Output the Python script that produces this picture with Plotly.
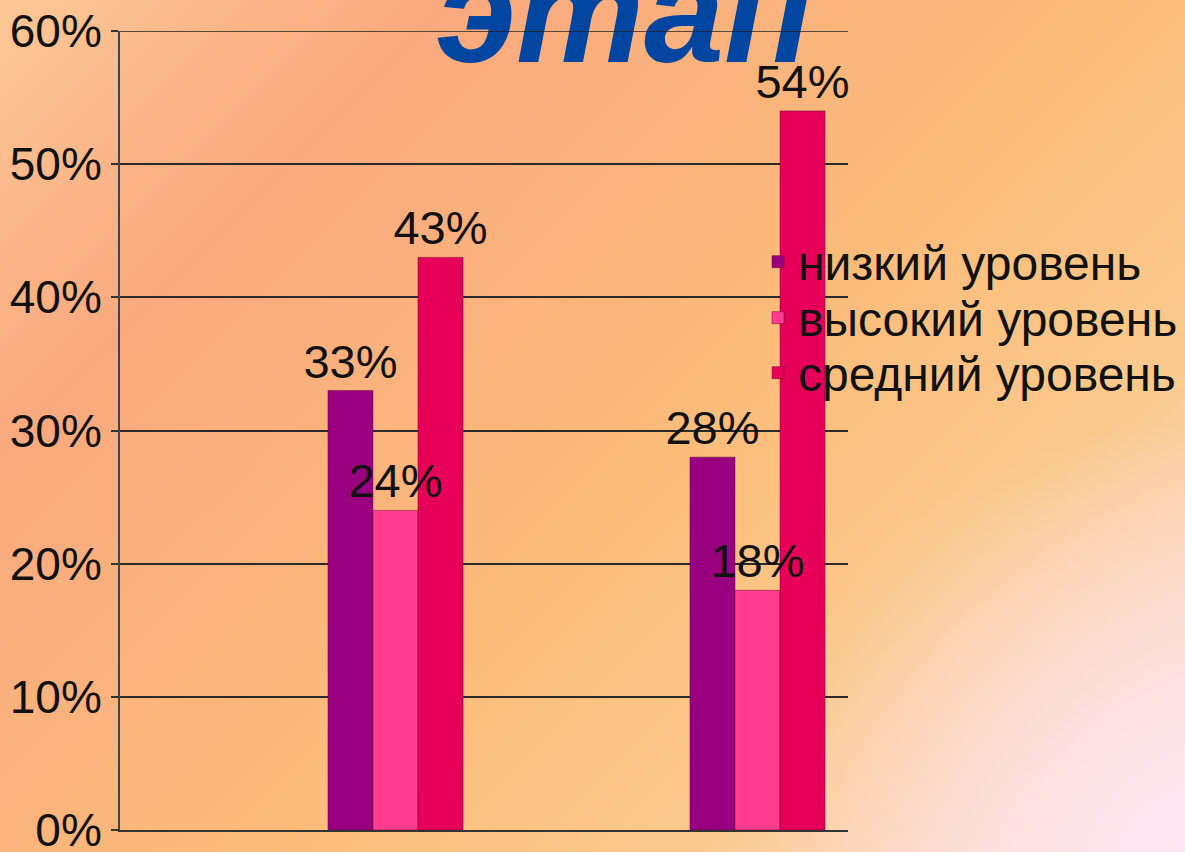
import base64
import plotly.graph_objects as go

# ---- data ----
groups = [0, 1]
series_names = ["низкий уровень", "высокий уровень", "средний уровень"]
low_values = [33, 28]
high_values = [24, 18]
mid_values = [43, 54]
series_colors = ["#990080", "#FF3C8E", "#E6005A"]
y_ticks = [0, 10, 20, 30, 40, 50, 60]
y_tick_labels = ["0%", "10%", "20%", "30%", "40%", "50%", "60%"]
title_text = "этап"

W, H = 1185, 852
ml, mr, mt, mb = 120, 337, 31, 22
pw, ph = W - ml - mr, H - mt - mb

svg = f"""<svg xmlns='http://www.w3.org/2000/svg' width='{W}' height='{H}' viewBox='0 0 {W} {H}' preserveAspectRatio='none'>
<defs>
<linearGradient id='g' gradientUnits='userSpaceOnUse' x1='0' y1='0' x2='1018' y2='1018'>
<stop offset='0' stop-color='#FCC896'/>
<stop offset='0.22' stop-color='#F9A97E'/>
<stop offset='0.55' stop-color='#FBBC7A'/>
<stop offset='0.75' stop-color='#FAC98C'/>
<stop offset='1' stop-color='#FDE2E2'/>
</linearGradient>
<radialGradient id='r' gradientUnits='userSpaceOnUse' cx='{W}' cy='{H}' r='430'>
<stop offset='0' stop-color='#FFE6F2' stop-opacity='1'/>
<stop offset='1' stop-color='#FFE6F2' stop-opacity='0'/>
</radialGradient>
</defs>
<rect width='{W}' height='{H}' fill='url(#g)'/>
<rect width='{W}' height='{H}' fill='url(#r)'/>
</svg>"""
bg_uri = "data:image/svg+xml;base64," + base64.b64encode(svg.encode("utf-8")).decode("ascii")

font_main = "Liberation Sans, Arial, sans-serif"
all_values = [low_values, high_values, mid_values]
legend_ids = ["legend", "legend2", "legend3"]
legend_centers = [262, 318, 373]  # pixel rows of legend entries

fig = go.Figure()
# bars
for i, (name, vals, col) in enumerate(zip(series_names, all_values, series_colors)):
    fig.add_trace(go.Bar(
        x=groups, y=vals, name=name, offsetgroup=str(i), legend=legend_ids[i],
        marker=dict(color=col, line=dict(color="rgba(90,0,40,0.45)", width=1)),
    ))
# value labels drawn on top of all bars (same slots, transparent bars)
for i, vals in enumerate(all_values):
    fig.add_trace(go.Bar(
        x=groups, y=vals, offsetgroup=str(i), showlegend=False, hoverinfo="skip",
        marker=dict(color="rgba(0,0,0,0)", line=dict(width=0)),
        text=[f"{v}%" for v in vals], textposition="outside",
        textfont=dict(family=font_main, size=47, color="#111111"),
        constraintext="none", cliponaxis=False,
    ))

# title as text in plot layer (so the 60% line can run over it)
fig.add_trace(go.Scatter(
    x=[0.632], y=[55.0], mode="text", text=[title_text],
    textposition="top center",
    textfont=dict(family="Liberation Sans, Arial", size=144, color="#0046A0", weight="bold", style="italic"),
    showlegend=False, hoverinfo="skip", cliponaxis=False,
))

fig.add_shape(type="line", xref="paper", x0=0, x1=1, yref="y", y0=60, y1=60,
              line=dict(color="#222222", width=1.5), layer="above")

legend_common = dict(
    xanchor="left", yanchor="middle",
    bgcolor="rgba(0,0,0,0)",
    font=dict(family=font_main, size=48, color="#111111"),
    itemwidth=30,
)
legend_layout = {}
for lid, cy in zip(legend_ids, legend_centers):
    legend_layout[lid] = dict(legend_common, x=(758 - ml) / pw, y=(H - mb - cy) / ph)

fig.update_layout(
    width=W, height=H,
    margin=dict(l=ml, r=mr, t=mt, b=mb, autoexpand=False),
    paper_bgcolor="#F9B583",
    plot_bgcolor="rgba(0,0,0,0)",
    barmode="group", bargap=0.627, bargroupgap=0,
    showlegend=True,
    images=[dict(
        source=bg_uri, xref="paper", yref="paper",
        x=-ml / pw, y=1 + mt / ph, sizex=W / pw, sizey=H / ph,
        xanchor="left", yanchor="top", sizing="stretch", layer="below",
    )],
    xaxis=dict(
        range=[-0.761, 1.25], showticklabels=False, showgrid=False,
        zeroline=False, showline=True, linecolor="#333333", linewidth=2, ticks="",
    ),
    yaxis=dict(
        range=[0, 60], tickvals=y_ticks, ticktext=y_tick_labels,
        showgrid=True, gridcolor="#2a2a2a", gridwidth=1.5,
        zeroline=False, showline=True, linecolor="#444444", linewidth=2,
        ticks="outside", ticklen=7, tickcolor="#333333", tickwidth=1.5,
        tickfont=dict(family=font_main, size=46, color="#111111"),
        automargin=False, ticklabeloverflow="allow",
    ),
    **legend_layout,
)

fig.write_html(
    "out.html",
    config={"displayModeBar": False},
    post_script="document.body.style.margin='0';document.body.style.overflow='hidden';",
)
